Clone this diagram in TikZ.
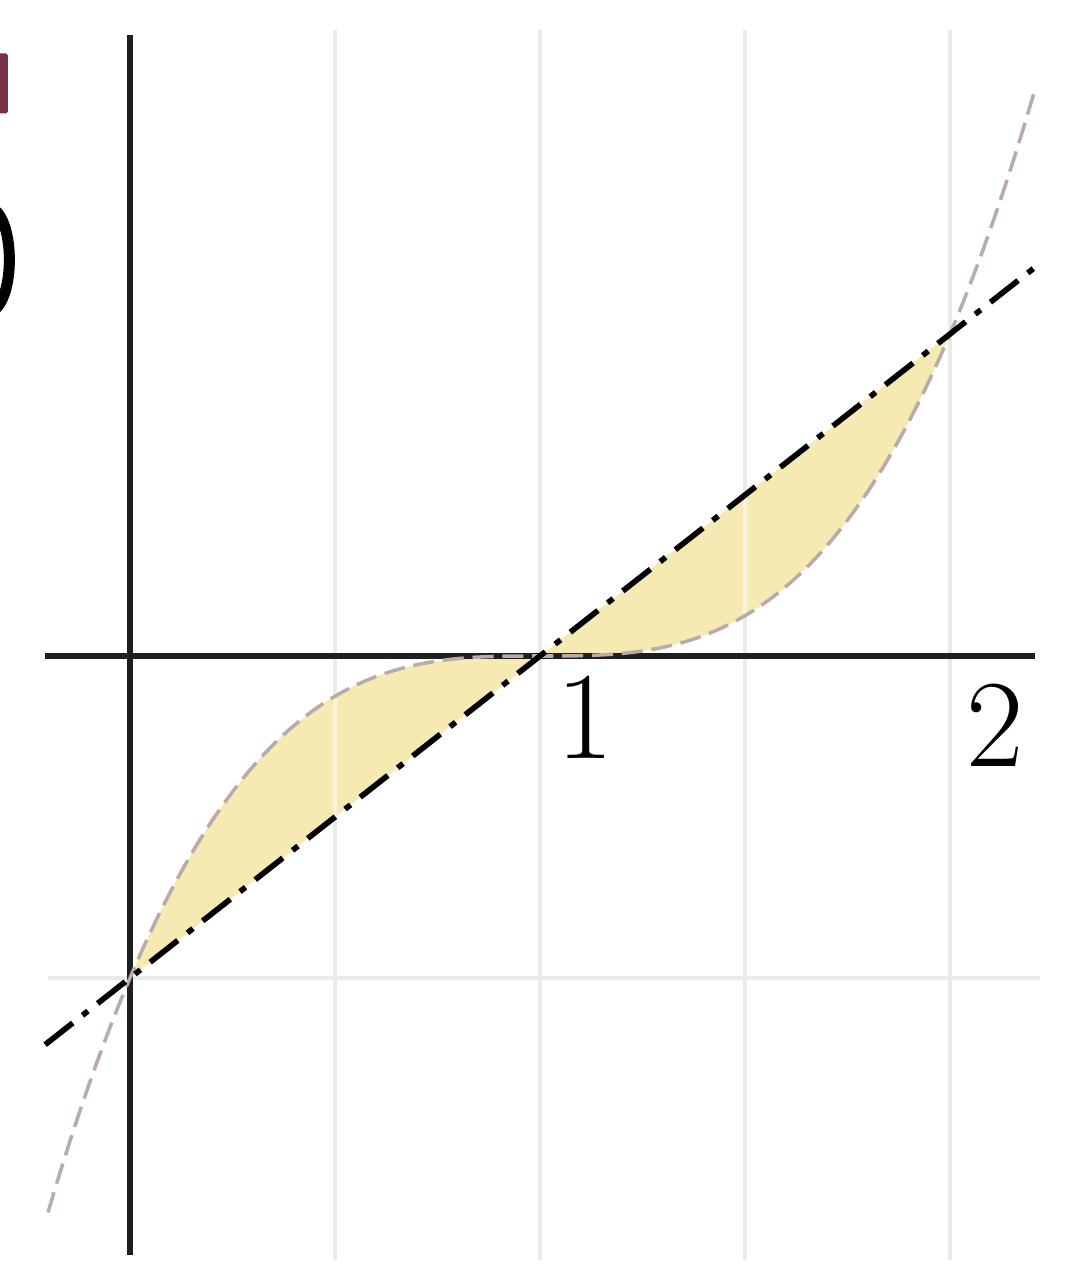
\documentclass[tikz,border=0pt]{standalone}
\usepackage{xcolor}
\definecolor{fillyellow}{RGB}{246,234,178}
\definecolor{curvecol}{RGB}{185,170,172}
\definecolor{gridcol}{RGB}{234,234,234}
\definecolor{maroonart}{RGB}{120,50,70}
\tikzset{
  axisline/.style={line width=3.6pt, black!88},
  gridline/.style={line width=2.6pt, gridcol},
  chordline/.style={line width=3.2pt, black, dash pattern=on 20pt off 7pt on 4pt off 7pt},
  cubiccurve/.style={line width=2pt, curvecol, dash pattern=on 12pt off 5pt},
  ticklabel/.style={font=\fontsize{71}{71}\selectfont, inner sep=0pt}
}
\begin{document}
\begin{tikzpicture}
\useasboundingbox[fill=white] (-2.6cm,-12.3cm) rectangle (18.86cm,13.12cm);
% cropped fragments at the left edge
\fill[maroonart, rounded corners=1pt] (-2.7cm,10.85cm) rectangle (-2.44cm,12.05cm);
\draw[line width=0.22cm, black] (-2.75cm,8.95cm) .. controls (-2.3cm,8.7cm) and (-2.3cm,7.15cm) .. (-2.75cm,6.9cm);
\begin{scope}[x=8.2cm, y=6.44cm]
  % grid
  \foreach \gx in {0.5,1,1.5,2} \draw[gridline] (\gx,1.944) -- (\gx,-1.876);
  \draw[gridline] (-0.2,-1) -- (2.22,-1);
  % filled region between cubic and chord
  \fill[fillyellow] plot[domain=0:2, samples=80, smooth] (\x,{(\x-1)^3}) -- (2,1) -- (0,-1) -- cycle;
  % grid seen through the fill
  \foreach \gx in {0.5,1.5} \draw[line width=2.6pt, white, opacity=0.55] (\gx,{(\gx-1)^3}) -- (\gx,{\gx-1});
  % axes
  \coordinate (xl) at (-0.207,0);
  \coordinate (xr) at (2.207,0);
  \coordinate (yt) at (0,1.929);
  \coordinate (yb) at (0,-1.86);
  \draw[axisline] (xl) -- (xr);
  \draw[axisline] (yt) -- (yb);
  % cubic curve
  \draw[cubiccurve] plot[domain=-0.2:2.207, samples=120, smooth] (\x,{(\x-1)^3});
  % chord line
  \coordinate (la) at (-0.207,-1.207);
  \coordinate (lb) at (2.207,1.207);
  \draw[chordline] (la) -- (lb);
  % labels
  \node[ticklabel] (one) at (1.11,-0.19) {1};
  \node[ticklabel] (two) at (2.11,-0.214) {2};
\end{scope}
\end{tikzpicture}
\end{document}
